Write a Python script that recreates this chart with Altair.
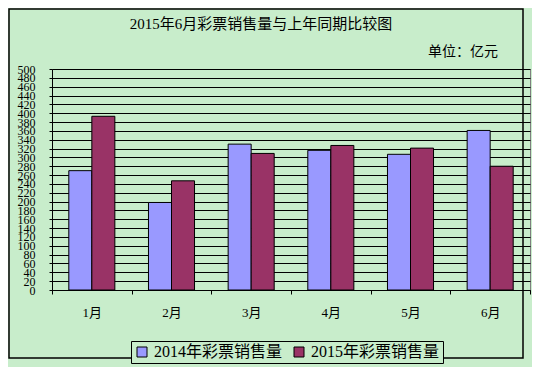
import altair as alt
import pandas as pd

months = ["1月", "2月", "3月", "4月", "5月", "6月"]
series = ["2014年彩票销售量", "2015年彩票销售量"]
s2014 = [270, 198, 330, 316, 307, 361]
s2015 = [393, 247, 309, 327, 321, 280]
colors = ["#9999FF", "#993366"]
y_ticks = list(range(0, 501, 20))
title_text = "2015年6月彩票销售量与上年同期比较图"
unit_text = "单位：亿元"

rows = []
for m, a, b in zip(months, s2014, s2015):
    rows.append({"月份": m, "系列": series[0], "销售量": a})
    rows.append({"月份": m, "系列": series[1], "销售量": b})
df = pd.DataFrame(rows)

FONT = "Liberation Serif, Noto Sans CJK SC"
BG = "#C8EDCB"

bars = alt.Chart(df).mark_bar(stroke="#000000", strokeWidth=1).encode(
    x=alt.X("月份:N", sort=months, title=None,
            scale=alt.Scale(paddingInner=0, paddingOuter=0),
            axis=alt.Axis(labelAngle=0, labelFont=FONT, labelFontSize=13,
                          labelColor="#000000", labelPadding=12,
                          tickBand="extent", tickSize=4, tickColor="#000000",
                          domainColor="#000000", grid=False)),
    xOffset=alt.XOffset("系列:N", sort=series,
                        scale=alt.Scale(paddingOuter=0.73, paddingInner=0)),
    y=alt.Y("销售量:Q", title=None,
            scale=alt.Scale(domain=[0, 500], nice=False),
            axis=alt.Axis(values=y_ticks, labelOverlap=False, labelFont=FONT,
                          labelFontSize=12, labelColor="#000000",
                          labelPadding=14, tickSize=3, tickColor="#000000",
                          domainColor="#000000", gridColor="#000000",
                          gridWidth=1, gridOpacity=1)),
    color=alt.Color("系列:N", sort=series,
                    scale=alt.Scale(domain=series, range=colors),
                    legend=alt.Legend(title=None, orient="none",
                                      legendX=79, legendY=272,
                                      direction="horizontal",
                                      labelFont=FONT, labelFontSize=16,
                                      labelColor="#000000",
                                      symbolType="square", symbolSize=100,
                                      symbolStrokeColor="#000000",
                                      symbolStrokeWidth=1,
                                      columnPadding=8, padding=3,
                                      strokeColor="#000000",
                                      fillColor=BG)),
)

title = alt.Chart(pd.DataFrame({"t": [title_text]})).mark_text(
    font=FONT, fontSize=15, align="center", baseline="middle", color="#000000"
).encode(text="t:N", x=alt.value(209), y=alt.value(-45))

unit = alt.Chart(pd.DataFrame({"t": [unit_text]})).mark_text(
    font=FONT, fontSize=14, align="right", baseline="middle", color="#000000"
).encode(text="t:N", x=alt.value(446), y=alt.value(-17))

border = alt.Chart(pd.DataFrame({"b": [0]})).mark_rect(
    fill=None, stroke="#000000", strokeWidth=1.5
).encode(x=alt.value(-43), x2=alt.value(471), y=alt.value(-60), y2=alt.value(289))

chart = alt.layer(bars, title, unit, border).properties(
    width=478, height=221,
    autosize=alt.AutoSizeParams(type="none"),
    padding={"left": 44, "top": 61, "right": 2, "bottom": 77},
    background=BG,
).configure_view(stroke="#808080", fill=BG)

chart.save("out.html", embed_options={"renderer": "svg", "actions": False})
